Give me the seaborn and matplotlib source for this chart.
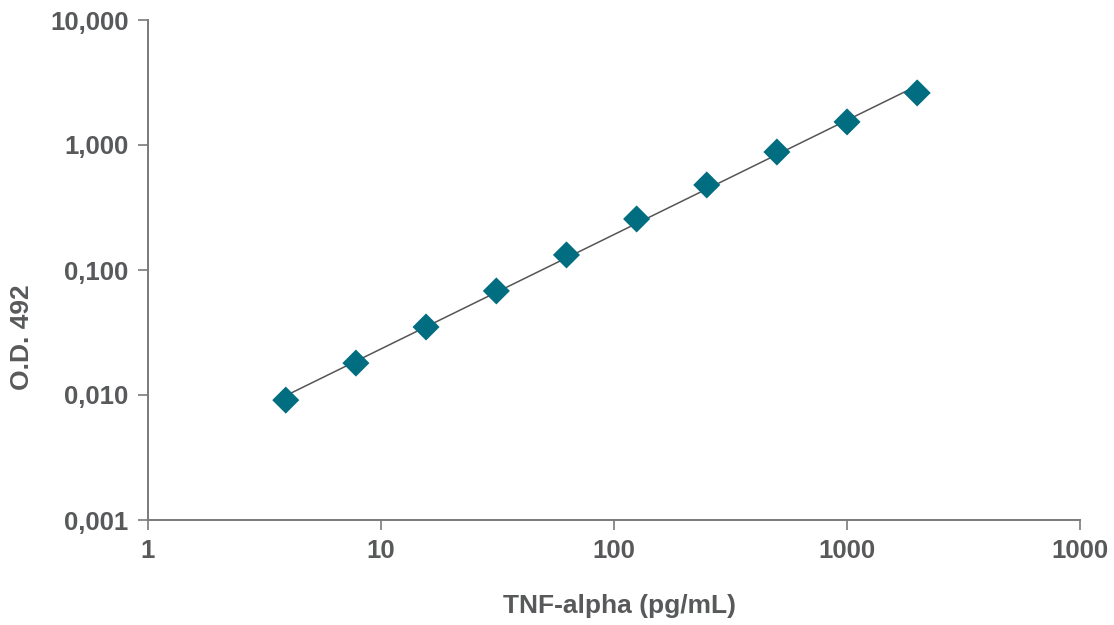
import numpy as np
import pandas as pd
import matplotlib
matplotlib.use("Agg")
import matplotlib.pyplot as plt
import seaborn as sns

# Standard curve values
conc = [3.9, 7.8, 15.6, 31.25, 62.5, 125, 250, 500, 1000, 2000]
od = [0.0091, 0.018, 0.035, 0.068, 0.132, 0.256, 0.479, 0.879, 1.53, 2.61]

x_ticks = [1, 10, 100, 1000, 10000]
x_labels = ["1", "10", "100", "1000", "1000"]
y_ticks = [0.001, 0.01, 0.1, 1, 10]
y_labels = ["0,001", "0,010", "0,100", "1,000", "10,000"]

df = pd.DataFrame({"conc": conc, "od": od})

sns.set_style("white")
plt.rcParams["font.family"] = ["Liberation Sans", "DejaVu Sans"]

grey = "#58595b"
fig = plt.figure(figsize=(11.14, 6.25), dpi=100)
ax = fig.add_axes([0.1329, 0.168, 0.8366, 0.8])

# power trendline fitted in log space
slope, icpt = np.polyfit(np.log10(df["conc"]), np.log10(df["od"]), 1)
fit = pd.DataFrame({"conc": [conc[0], conc[-1]]})
fit["od"] = 10 ** (icpt + slope * np.log10(fit["conc"]))
sns.lineplot(data=fit, x="conc", y="od", ax=ax, color="#555555", linewidth=1.1, zorder=2)

sns.scatterplot(data=df, x="conc", y="od", ax=ax, marker="D", s=190,
                color="#006d80", edgecolor="none", zorder=3)

ax.set_xscale("log")
ax.set_yscale("log")
ax.set_xlim(1, 10000)
ax.set_ylim(0.001, 10)
ax.set_xticks(x_ticks)
ax.set_xticklabels(x_labels)
ax.set_yticks(y_ticks)
ax.set_yticklabels(y_labels)
ax.minorticks_off()

for side in ["top", "right"]:
    ax.spines[side].set_visible(False)
for side in ["left", "bottom"]:
    ax.spines[side].set_color("#7a7a7a")
    ax.spines[side].set_linewidth(1.4)

ax.tick_params(axis="both", which="major", bottom=True, left=True, direction="out",
               length=7, width=1.2, color="#7a7a7a",
               labelsize=18.5, labelcolor=grey, pad=7)
for lab in ax.get_xticklabels() + ax.get_yticklabels():
    lab.set_fontweight("bold")

ax.set_xlabel("TNF-alpha (pg/mL)", fontsize=19, fontweight="bold", color=grey)
ax.set_ylabel("O.D. 492", fontsize=19, fontweight="bold", color=grey)
ax.xaxis.set_label_coords(0.506, -0.148)
ax.yaxis.set_label_coords(-0.122, 0.366)

fig.savefig("out.png", dpi=100)
